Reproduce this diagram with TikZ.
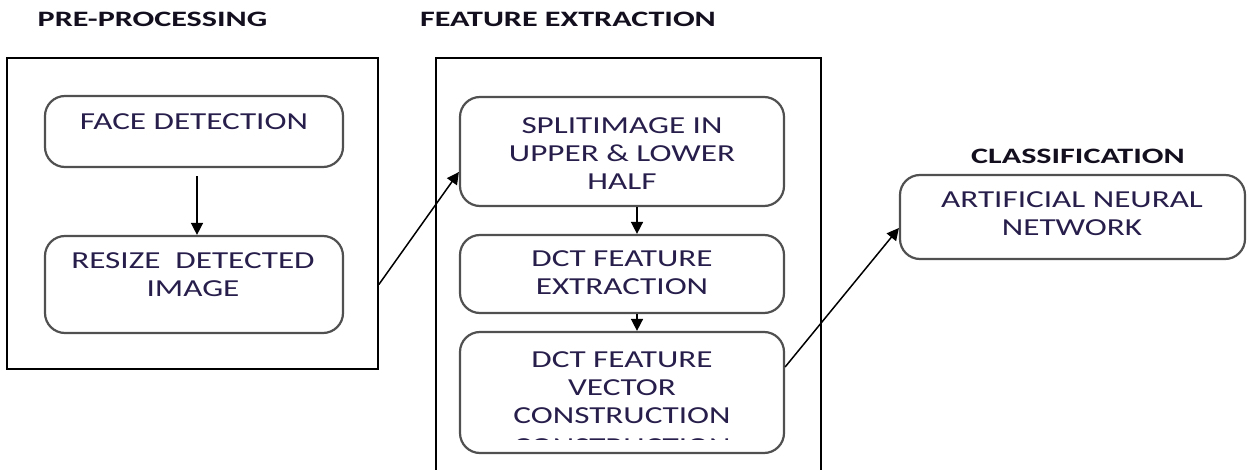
\documentclass[tikz,border=0pt]{standalone}
\usepackage{fontspec}
\usetikzlibrary{arrows.meta,fit}
\newfontfamily\boxfont{Carlito}[FakeStretch=1.36]
\newfontfamily\ttlfont{Carlito}[FakeStretch=1.46]
\definecolor{txtc}{RGB}{40,30,75}
\definecolor{ttlc}{RGB}{20,15,30}
\definecolor{bord}{RGB}{80,80,80}
\begin{document}
\begin{tikzpicture}[x=0.5pt,y=-0.5pt,
 outer/.style={draw=black, line width=0.85pt, inner sep=0pt},
 rbox/.style={draw=bord, line width=1.1pt, rounded corners=10pt, inner sep=0pt},
 txt/.style={font=\boxfont\fontsize{12.2}{14}\selectfont, text=txtc, align=center, inner sep=0pt},
 ttl/.style={font=\ttlfont\bfseries\fontsize{11}{13}\selectfont, text=ttlc, inner sep=0pt},
 arr/.style={draw=black, line width=0.75pt, -{Triangle[length=6pt,width=6pt]}}]
\clip (0,0) rectangle (1247,470);
\fill[white] (0,0) rectangle (1247,470);
% titles
\node[ttl] (t1) at (152.5,19) {PRE-PROCESSING};
\node[ttl] (t2) at (568,19) {FEATURE EXTRACTION};
\node[ttl] (t3) at (1078,156) {CLASSIFICATION};
% outer boxes
\node[outer, fit={(7,58) (378,369)}] (pre) {};
\node[outer, fit={(436,58) (821,490)}] (fe) {};
% inner boxes
\node[rbox, fit={(45,96) (343,167)}] (fd) {};
\node[rbox, fit={(45,236) (343,333)}] (rs) {};
\node[rbox, fit={(460,97) (784,206)}] (sp) {};
\node[rbox, fit={(460,235) (784,313)}] (dx) {};
\node[rbox, fit={(460,332) (784,453)}] (dv) {};
\node[rbox, fit={(900,175) (1245,259)}] (ann) {};
% texts
\node[txt] (fdt) at (194,122) {FACE DETECTION};
\node[txt] (rst) at (193,275) {RESIZE\ \ DETECTED\\IMAGE};
\node[txt] (spt) at (622,153.5) {SPLITIMAGE IN\\UPPER \& LOWER\\HALF};
\node[txt] (dxt) at (622,272.5) {DCT FEATURE\\EXTRACTION};
\node[txt] (dvt) at (622,387.5) {DCT FEATURE\\VECTOR\\CONSTRUCTION};
\node[txt] (annt) at (1072,214) {ARTIFICIAL NEURAL\\NETWORK};
\begin{scope}
\clip (500,436.5) rectangle (760,439.5);
\node[txt] (ghost) at (622,447) {CONSTRUCTION};
\end{scope}
% arrows
\draw[arr] ([xshift=1.5pt,yshift=-4pt]fd.south) -- ([xshift=1.5pt]rs.north);
\draw[arr] (rs.east -| pre.east) -- ([yshift=-10.25pt]sp.west);
\draw[arr] ([xshift=7.5pt]sp.south) -- ([xshift=7.5pt]dx.north);
\draw[arr] ([xshift=7.5pt]dx.south) -- ([xshift=7.5pt]dv.north);
\draw[arr] ([yshift=12.75pt]dv.east) -- ([yshift=-5.5pt]ann.west);
\end{tikzpicture}
\end{document}
